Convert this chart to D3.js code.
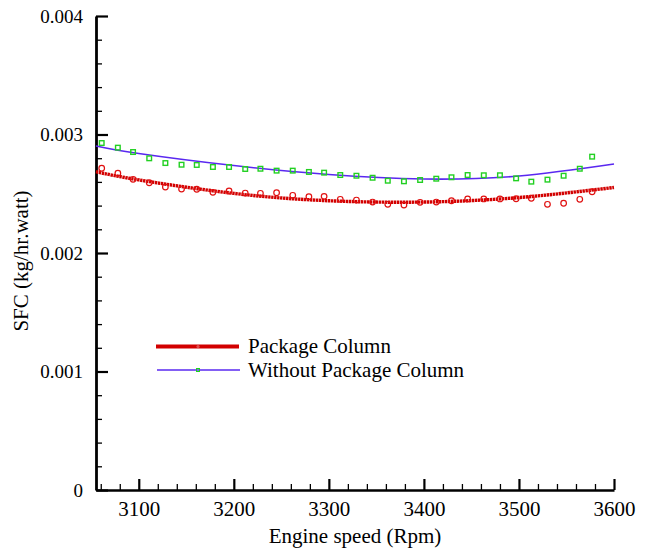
<!DOCTYPE html>
<html><head><meta charset="utf-8">
<script src="https://cdn.jsdelivr.net/npm/d3@7"></script>
<style>body{margin:0;background:#fff}svg{display:block}</style>
</head><body><svg id="c" width="650" height="551"></svg>
<script>
// ---- data ----
const rpm = [3061,3078,3094,3111,3128,3145,3161,3178,3195,3212,3228,3245,3262,3279,3295,3312,3329,3346,3362,3379,3396,3413,3429,3446,3463,3480,3497,3513,3530,3547,3564,3577];
const pkg = [0.002715,0.002673,0.002622,0.002593,0.002557,0.002540,0.002538,0.002512,0.002523,0.002506,0.002504,0.002509,0.002487,0.002475,0.002478,0.002453,0.002447,0.002430,0.002411,0.002405,0.002428,0.002430,0.002441,0.002456,0.002456,0.002456,0.002458,0.002462,0.002411,0.002420,0.002453,0.002517];
const noPkg = [0.002928,0.002889,0.002852,0.002799,0.002759,0.002745,0.002743,0.002726,0.002726,0.002709,0.002711,0.002695,0.002695,0.002684,0.002678,0.002658,0.002652,0.002635,0.002610,0.002605,0.002616,0.002627,0.002639,0.002658,0.002656,0.002656,0.002630,0.002602,0.002619,0.002652,0.002711,0.002813];
const fitRpm = [3055,3100,3200,3300,3400,3500,3600];
const pkgFit = [0.002686,0.002617,0.002503,0.002441,0.002430,0.002468,0.002553];
const noPkgFit = [0.002903,0.002840,0.002738,0.002662,0.002624,0.002650,0.002751];
const xTicks = [3100,3200,3300,3400,3500,3600];
const yTicks = [0,0.001,0.002,0.003,0.004];
const yTickLabels = ["0","0.001","0.002","0.003","0.004"];
const seriesNames = ["Package Column","Without Package Column"];

// ---- chart ----
const svg = d3.select("#c");
const L=96, R=614, T=16, B=490;
const x = d3.scaleLinear().domain([3055,3600]).range([L,R]);
const y = d3.scaleLinear().domain([0,0.004]).range([B,T]);
const font = "'Liberation Serif','Times New Roman',serif";

// minor ticks
const xMinor = d3.range(3060,3601,20).filter(v=>v%100!==0);
const yMinor = d3.range(0,0.00401,0.0002).filter(v=>Math.abs(v*1000-Math.round(v*1000))>1e-6);

svg.append("g").attr("transform",`translate(0,${B})`)
  .call(d3.axisBottom(x).tickValues(xMinor).tickSize(-6).tickSizeOuter(0).tickFormat(""))
  .call(g=>g.select(".domain").remove())
  .selectAll("line").attr("stroke","#000").attr("stroke-width",1.3);
svg.append("g").attr("transform",`translate(${L},0)`)
  .call(d3.axisLeft(y).tickValues(yMinor).tickSize(-6).tickSizeOuter(0).tickFormat(""))
  .call(g=>g.select(".domain").remove())
  .selectAll("line").attr("stroke","#000").attr("stroke-width",1.3);

const gx = svg.append("g").attr("transform",`translate(0,${B})`)
  .call(d3.axisBottom(x).tickValues(xTicks).tickSize(-11).tickSizeOuter(0).tickPadding(11).tickFormat(d3.format("d")));
gx.select(".domain").attr("stroke","#000").attr("stroke-width",2.6);
gx.selectAll(".tick line").attr("stroke","#000").attr("stroke-width",2.2);
gx.selectAll("text").attr("font-family",font).attr("font-size",21).attr("fill","#000");

const gy = svg.append("g").attr("transform",`translate(${L},0)`)
  .call(d3.axisLeft(y).tickValues(yTicks).tickSize(-12).tickSizeOuter(0).tickPadding(13).tickFormat((d,i)=>yTickLabels[i]));
gy.select(".domain").attr("stroke","#000").attr("stroke-width",2.8);
gy.selectAll(".tick line").attr("stroke","#000").attr("stroke-width",2.2);
gy.selectAll("text").attr("font-family",font).attr("font-size",19).attr("fill","#000");

// axis titles
svg.append("text").attr("x",355).attr("y",543).attr("text-anchor","middle")
  .attr("font-family",font).attr("font-size",21).text("Engine speed (Rpm)");
svg.append("text").attr("transform","translate(28,261) rotate(-90)").attr("text-anchor","middle")
  .attr("font-family",font).attr("font-size",21).text("SFC (kg/hr.watt)");

// fitted lines
const line = d3.line().x(d=>x(d[0])).y(d=>y(d[1])).curve(d3.curveNatural);
const redC = "#d20000", blueC = "#5a28f0", greenC = "#22d022";
svg.append("path").datum(fitRpm.map((r,i)=>[r,pkgFit[i]]))
  .attr("d",line).attr("fill","none").attr("stroke",redC).attr("stroke-width",3.4)
  .attr("stroke-dasharray","2.4,0.6");
svg.append("path").datum(fitRpm.map((r,i)=>[r,noPkgFit[i]]))
  .attr("d",line).attr("fill","none").attr("stroke",blueC).attr("stroke-width",1.6);

// markers
svg.append("g").selectAll("circle").data(rpm.map((r,i)=>[r,pkg[i]])).join("circle")
  .attr("cx",d=>x(d[0])).attr("cy",d=>y(d[1])).attr("r",2.8)
  .attr("fill","none").attr("stroke","#e01010").attr("stroke-width",1.2);
svg.append("g").selectAll("rect").data(rpm.map((r,i)=>[r,noPkg[i]])).join("rect")
  .attr("x",d=>x(d[0])-2.3).attr("y",d=>y(d[1])-2.3).attr("width",4.6).attr("height",4.6)
  .attr("fill","none").attr("stroke",greenC).attr("stroke-width",1.4);

// legend
const lg = svg.append("g");
lg.append("line").attr("x1",156).attr("x2",239).attr("y1",346.5).attr("y2",346.5)
  .attr("stroke",redC).attr("stroke-width",4);
lg.append("circle").attr("cx",198).attr("cy",346.5).attr("r",1.6).attr("fill","#e05050");
lg.append("text").attr("x",248).attr("y",353).attr("font-family",font).attr("font-size",21).text(seriesNames[0]);
lg.append("line").attr("x1",157).attr("x2",240).attr("y1",370).attr("y2",370)
  .attr("stroke",blueC).attr("stroke-width",1.5);
lg.append("rect").attr("x",196.5).attr("y",368.5).attr("width",3).attr("height",3)
  .attr("fill","none").attr("stroke",greenC).attr("stroke-width",1);
lg.append("text").attr("x",248).attr("y",377).attr("font-family",font).attr("font-size",21).text(seriesNames[1]);
</script></body></html>
